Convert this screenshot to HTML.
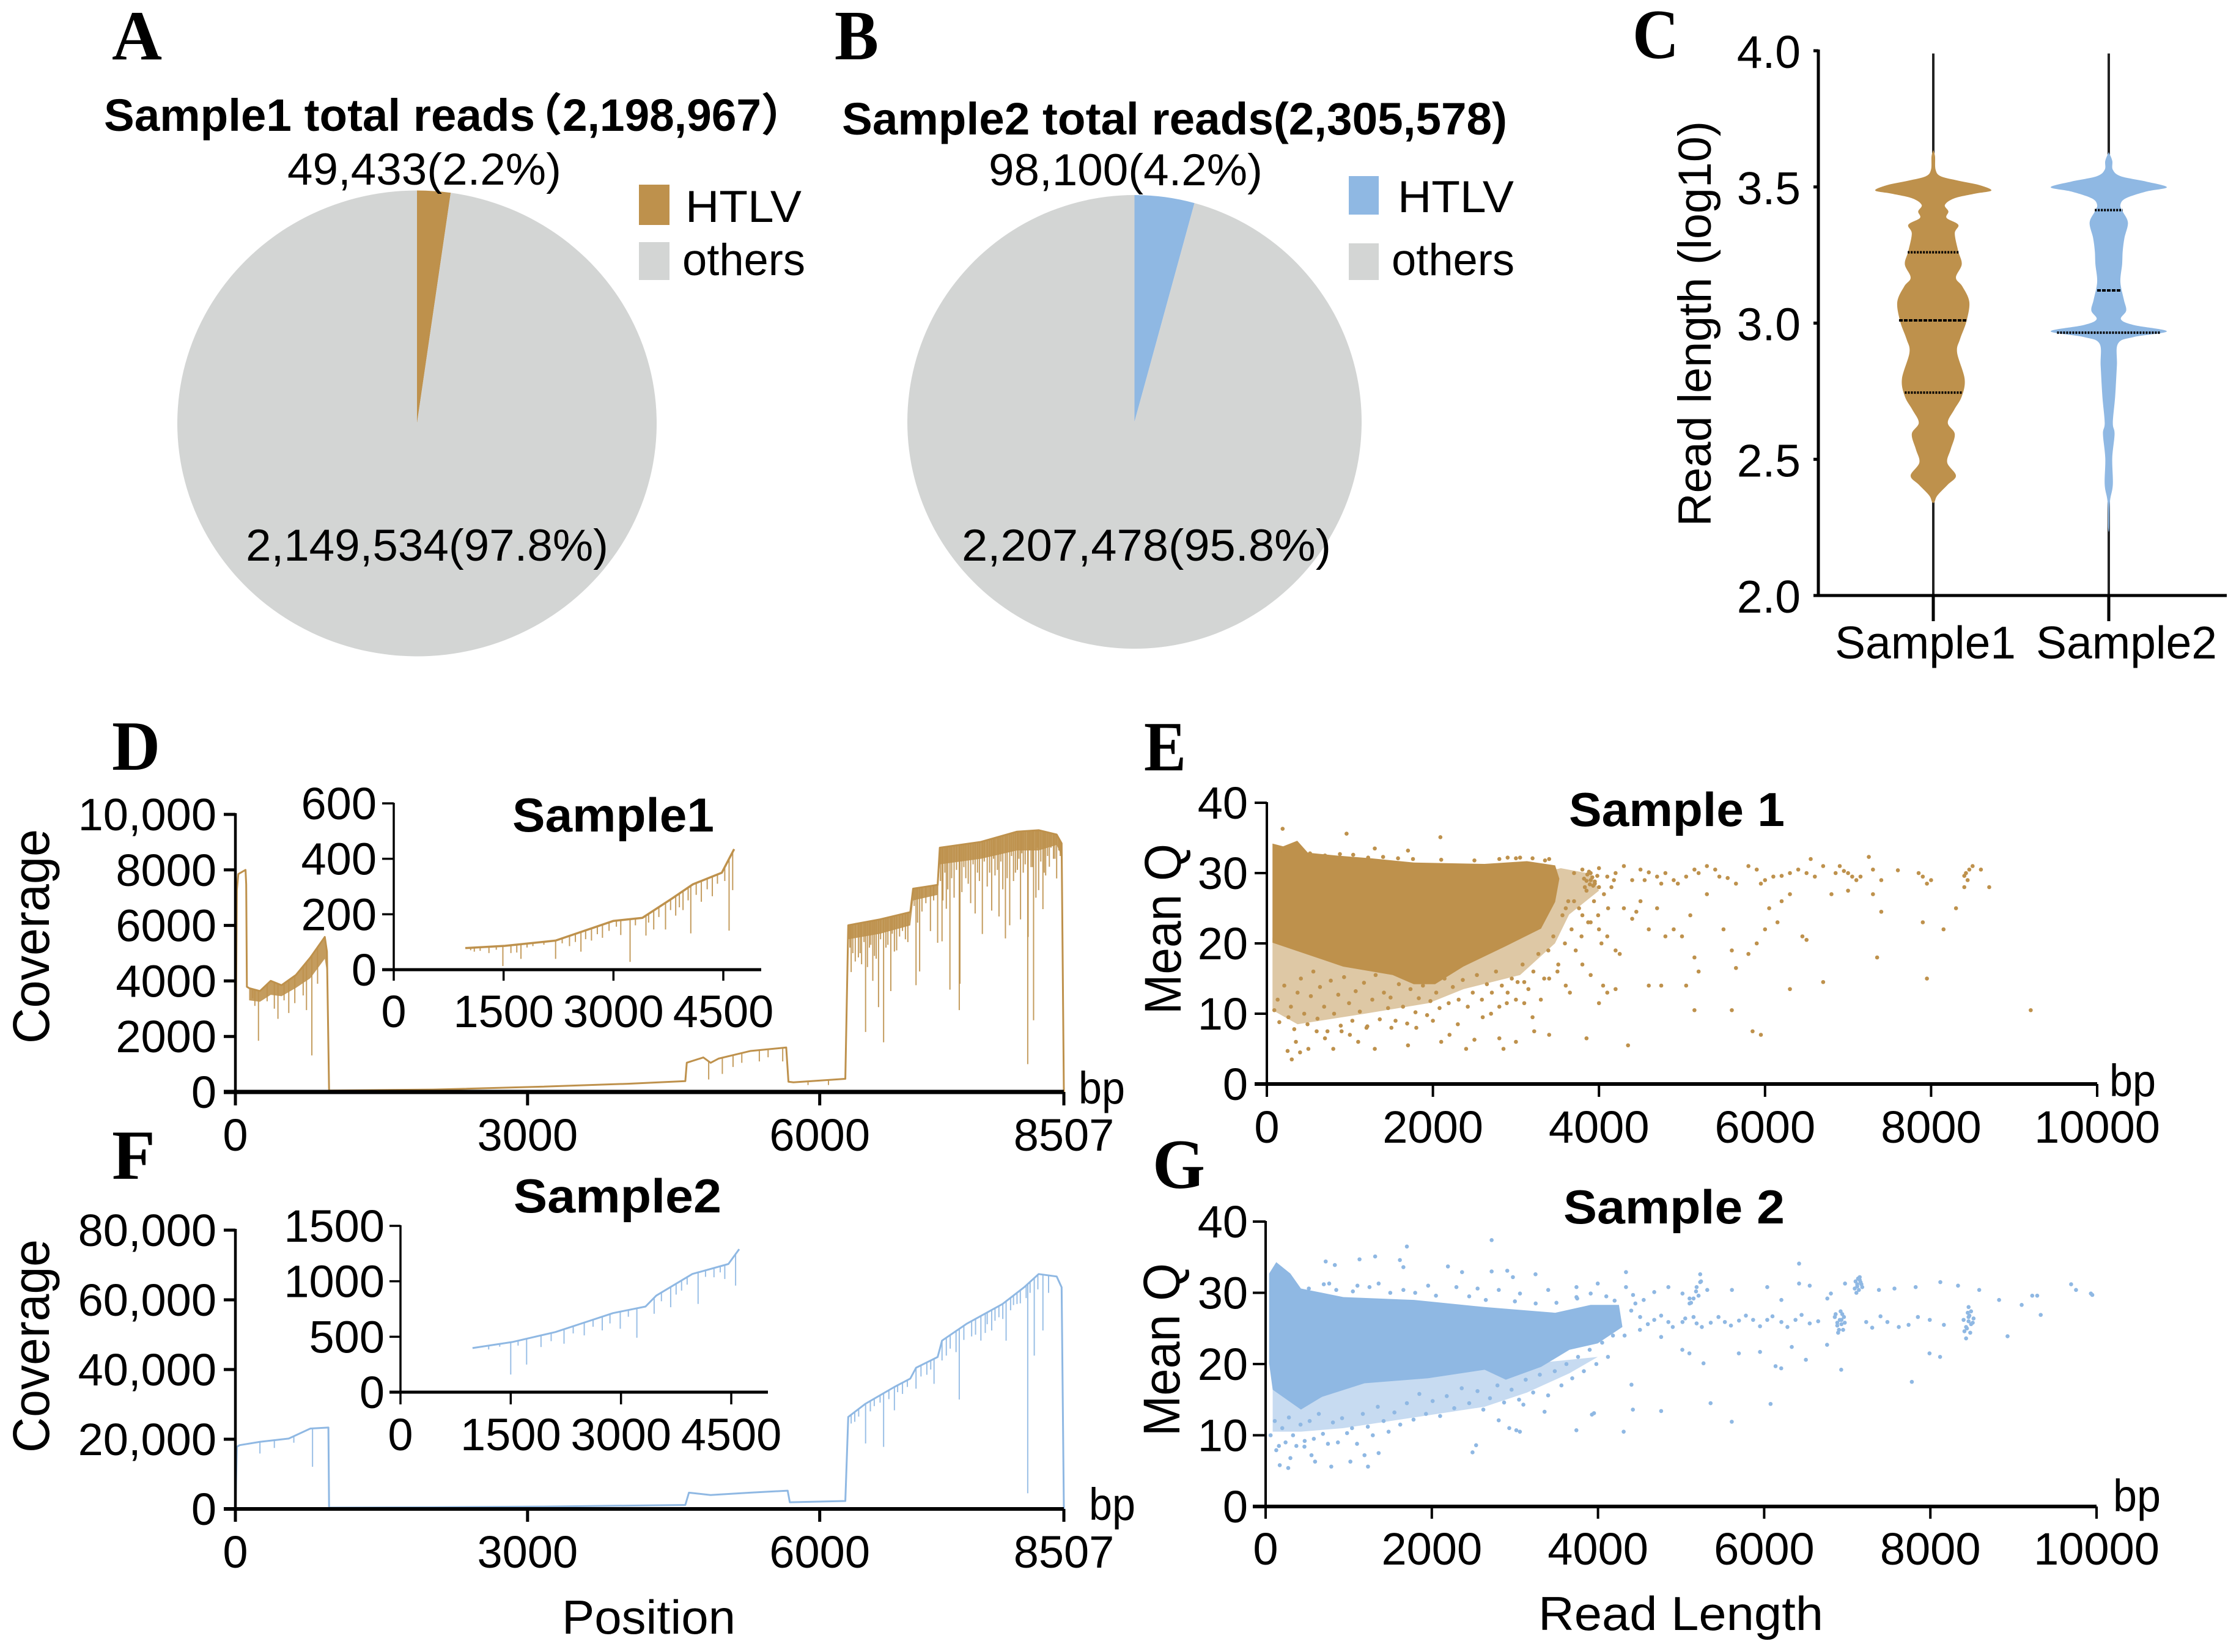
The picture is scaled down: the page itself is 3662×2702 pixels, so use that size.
<!DOCTYPE html>
<html lang="en">
<head>
<meta charset="utf-8">
<title>HTLV sequencing read summary</title>
<style>
html,body{margin:0;padding:0;background:#fff;}
#figure{display:block;width:3662px;height:2702px;}
text{font-family:"Liberation Sans","Noto Sans CJK SC",sans-serif;fill:#000;}
.b{font-weight:700;}
.letter{font-family:"Liberation Serif",serif;font-weight:700;font-size:115px;}
</style>
</head>
<body>
<svg id="figure" xmlns="http://www.w3.org/2000/svg" width="3662" height="2702" viewBox="0 0 3662 2702">
<rect width="3662" height="2702" fill="#fff"/>

<text class="letter" x="183" y="97" textLength="82" lengthAdjust="spacingAndGlyphs">A</text>
<text class="letter" x="1365" y="97" textLength="72" lengthAdjust="spacingAndGlyphs">B</text>
<text class="letter" x="2670" y="95" textLength="76" lengthAdjust="spacingAndGlyphs">C</text>
<text class="letter" x="183" y="1259" textLength="79" lengthAdjust="spacingAndGlyphs">D</text>
<text class="letter" x="1871" y="1260" textLength="69" lengthAdjust="spacingAndGlyphs">E</text>
<text class="letter" x="183" y="1928" textLength="71" lengthAdjust="spacingAndGlyphs">F</text>
<text class="letter" x="1885" y="1943" textLength="86" lengthAdjust="spacingAndGlyphs">G</text>

<g id="panel-a"></g>
<g id="panel-b"></g>
<g id="panel-c"></g>
<g id="panel-d"></g>
<g id="panel-e"></g>
<g id="panel-f"></g>
<g id="panel-g"></g>

<text class="b" x="170" y="214" font-size="74" textLength="705" lengthAdjust="spacingAndGlyphs">Sample1 total reads</text>
<text class="b" x="846" y="214" font-size="74">（</text>
<text class="b" x="920" y="214" font-size="74" textLength="325" lengthAdjust="spacingAndGlyphs">2,198,967</text>
<text class="b" x="1244" y="214" font-size="74">）</text>
<text x="470" y="302" font-size="73" textLength="448" lengthAdjust="spacingAndGlyphs">49,433(2.2%)</text>
<text x="402" y="917" font-size="73" textLength="593" lengthAdjust="spacingAndGlyphs">2,149,534(97.8%)</text>
<rect x="1045" y="302" width="50" height="66" fill="#be914c"/>
<rect x="1045" y="396" width="50" height="62" fill="#d3d5d4"/>
<text x="1121" y="363" font-size="73" textLength="190" lengthAdjust="spacingAndGlyphs">HTLV</text>
<text x="1116" y="450" font-size="73" textLength="201" lengthAdjust="spacingAndGlyphs">others</text>

<text class="b" x="1377" y="220" font-size="74" textLength="1088" lengthAdjust="spacingAndGlyphs">Sample2 total reads(2,305,578)</text>
<text x="1617" y="303" font-size="73" textLength="448" lengthAdjust="spacingAndGlyphs">98,100(4.2%)</text>
<text x="1573" y="917" font-size="73" textLength="604" lengthAdjust="spacingAndGlyphs">2,207,478(95.8%)</text>
<rect x="2206" y="288" width="49" height="63" fill="#8fb8e3"/>
<rect x="2206" y="398" width="49" height="60" fill="#d3d5d4"/>
<text x="2286" y="347" font-size="73" textLength="190" lengthAdjust="spacingAndGlyphs">HTLV</text>
<text x="2276" y="450" font-size="73" textLength="201" lengthAdjust="spacingAndGlyphs">others</text>

<text x="2798" y="861" font-size="76" textLength="663" lengthAdjust="spacingAndGlyphs" transform="rotate(-90 2798 861)">Read length (log10)</text>
<text x="80" y="1707" font-size="84" textLength="351" lengthAdjust="spacingAndGlyphs" transform="rotate(-90 80 1707)">Coverage</text>
<text x="80" y="2376" font-size="84" textLength="349" lengthAdjust="spacingAndGlyphs" transform="rotate(-90 80 2376)">Coverage</text>
<text x="1931" y="1659" font-size="84" textLength="279" lengthAdjust="spacingAndGlyphs" transform="rotate(-90 1931 1659)">Mean Q</text>
<text x="1929" y="2349" font-size="84" textLength="283" lengthAdjust="spacingAndGlyphs" transform="rotate(-90 1929 2349)">Mean Q</text>

<text class="b" x="838" y="1360" font-size="78" textLength="330" lengthAdjust="spacingAndGlyphs">Sample1</text>
<text class="b" x="840" y="1983" font-size="78" textLength="340" lengthAdjust="spacingAndGlyphs">Sample2</text>
<text class="b" x="2566" y="1351" font-size="78" textLength="353" lengthAdjust="spacingAndGlyphs">Sample 1</text>
<text class="b" x="2557" y="2001" font-size="78" textLength="362" lengthAdjust="spacingAndGlyphs">Sample 2</text>

<text x="1764" y="1805" font-size="74" textLength="76" lengthAdjust="spacingAndGlyphs">bp</text>
<text x="1781" y="2486" font-size="74" textLength="76" lengthAdjust="spacingAndGlyphs">bp</text>
<text x="3450" y="1793" font-size="74" textLength="76" lengthAdjust="spacingAndGlyphs">bp</text>
<text x="3456" y="2472" font-size="74" textLength="78" lengthAdjust="spacingAndGlyphs">bp</text>
<text x="919" y="2672" font-size="78" textLength="284" lengthAdjust="spacingAndGlyphs">Position</text>
<text x="2516" y="2666" font-size="78" textLength="466" lengthAdjust="spacingAndGlyphs">Read Length</text>
</svg>

<script>
// ---------- chart data ----------
const pieAValues = [49433, 2149534];
const pieBValues = [98100, 2207478];

const violinTicks = [2, 2.5, 3, 3.5, 4];
const violinTickLabels = ['2.0', '2.5', '3.0', '3.5', '4.0'];
const violinCategories = ['Sample1', 'Sample2'];
const violin1Level = [3.636,3.612,3.563,3.539,3.523,3.507,3.487,3.475,3.458,3.434,3.410,3.386,3.361,3.329,3.264,3.216,3.167,3.135,3.078,3.006,2.941,2.892,2.795,2.731,2.682,2.634,2.593,2.537,2.488,2.440,2.407,2.367,2.343];
const violin1Density = [0,3,4,13,43,79,100,71,36,20,26,23,43,37,43,49,39,50,62,57,46,41,54,49,36,25,37,30,24,39,25,7,2];
const violin2Level = [3.628,3.596,3.563,3.539,3.520,3.499,3.483,3.458,3.434,3.410,3.369,3.313,3.264,3.216,3.151,3.086,3.046,3.014,2.993,2.970,2.949,2.925,2.844,2.731,2.634,2.593,2.504,2.407,2.343,2.246];
const violin2Density = [0,6,7,21,64,100,64,29,20,24,33,27,24,23,20,26,30,21,43,100,43,16,14,11,7,10,6,7,2,1];
const violin1Quartiles = [3.26, 3.01, 2.745];
const violin1QuartileDensity = [44, 59, 49];
const violin2Quartiles = [3.415, 3.12, 2.965];
const violin2QuartileDensity = [24, 20, 89];

const covXTicks = [0, 3000, 6000, 8507];
const covXLabels = ['0', '3000', '6000', '8507'];
const insetXTicks = [0, 1500, 3000, 4500];
const insetXLabels = ['0', '1500', '3000', '4500'];

const dYTicks = [0, 2000, 4000, 6000, 8000, 10000];
const dYLabels = ['0', '2000', '4000', '6000', '8000', '10,000'];
const dPos = [0,15,30,104,111,118,141,252,363,474,622,770,918,940,962,992,2029,3139,4027,4620,4635,4805,4880,4960,5286,5656,5679,5730,6263,6293,6619,6930,6959,7211,7233,7655,8026,8248,8433,8484,8507];
const dCov = [0,7270,7850,8000,7480,3790,3740,3635,4004,3846,4215,4847,5585,5058,53,53,84,190,295,390,1054,1243,1050,1200,1475,1602,369,348,474,6006,6217,6480,7323,7461,8799,9010,9378,9431,9273,8957,0];
const dSpikePos = [237,178,326,437,548,696,785,844,200,400,500,610,730,6323,6397,6471,6545,6604,6656,6730,6767,6989,7026,7137,7211,7256,7337,7433,7440,7596,7670,7766,7841,7907,7951,8062,8136,8140,8196,8248,8292,8358,8433,6340,6430,6510,6580,6700,6820,6880,7300,7380,7500,7550,7620,7720,7800,7880,7990,8030,8090,8170,8220,8320,8400,4860,5000,5110,5200,5380,5470,5620,5880,6090,6310,6365,6415,6455,6490,6525,6562,6625,6680,6745,6790,6850,6905,6970,7005,7050,7090,7170,7240,7265,7285,7315,7355,7405,7460,7480,7525,7575,7640,7690,7745,7785,7825,7860,7925,7970,8010,8045,8075,8110,8155,8185,8235,8270,8305,8340,8375,8415,8455,8470];
const dSpikeLow = [1844,3372,3267,2634,2845,3477,1317,3899,3100,3000,3300,3200,2950,4320,4847,2160,4004,3056,1791,3635,5058,3846,4341,5796,5374,5427,3688,2950,3899,6428,5690,6533,6322,5532,6006,6217,1001,5585,2582,7271,6586,8114,7692,5000,4600,5200,4800,5300,5600,5500,6600,7000,7700,6800,7900,7400,7800,7300,7600,8000,7900,8100,7000,7800,8400,450,650,900,1050,1100,1250,1100,250,250,5200,4700,5000,5400,4500,5300,4900,5500,5200,5700,5100,5800,5400,6700,6100,6500,6800,6900,7600,6900,7900,7300,7700,8000,7200,8100,7500,8200,7600,8300,7900,8400,8000,8300,7700,8500,7900,8400,8600,8200,8700,8100,8800,8300,7900,8500,8800,8400,8700,8500];
const dBandPos = [141,252,363,474,622,770,918,940];
const dBandUpper = [3740,3635,4004,3846,4215,4847,5585,5058];
const dBandLower = [3300,3250,3500,3450,3750,4100,4800,4300];
const dBand2Pos = [6293,6619,6930,6959,7211,7233,7655,8026,8248,8433,8484];
const dBand2Upper = [6006,6217,6480,7323,7461,8799,9010,9378,9431,9273,8957];
const dBand2Lower = [5500,5700,6000,6900,7100,8200,8400,8700,8700,8900,8500];

const dInsetYTicks = [0, 200, 400, 600];
const dInsetYLabels = ['0', '200', '400', '600'];
const dInsetPos = [977,1520,2210,3000,3395,3790,4085,4480,4648];
const dInsetCov = [78,86,105,176,187,255,308,350,435];
const dInsetSpikePos = [1490,1737,2210,2556,3227,3444,3711,4056,4579,4628,1100,1300,1600,1900,2400,2700,2850,3100,3550,3850,3950,4200,4350,1050,1180,1400,1680,1820,2050,2300,2480,2620,2780,2940,3040,3300,3480,3620,3780,3900,4020,4130,4280,4420,4520];
const dInsetSpikeLow = [13,39,39,65,28,123,145,131,141,287,65,60,60,85,85,105,115,125,145,195,215,245,265,70,68,72,62,80,90,95,100,110,128,140,155,160,170,190,215,225,250,270,290,310,320];

const fYTicks = [0, 20000, 40000, 60000, 80000];
const fYLabels = ['0', '20,000', '40,000', '60,000', '80,000'];
const fPos = [0,15,44,252,548,770,955,962,2029,3139,4620,4657,4879,5286,5671,5693,6263,6293,6471,6767,6930,6989,7211,7256,7507,7877,8099,8248,8433,8484,8507];
const fCov = [0,17830,18300,19260,20200,23070,23360,380,480,670,1140,4670,4000,4670,5240,1900,2290,26400,30200,35000,37400,40500,43600,48300,53100,58800,63600,67400,66700,63600,0];
const fSpikePos = [792,252,6471,6656,6323,6767,7433,7174,6989,7655,7914,8136,8203,8292,7256,7766,8026,400,600,6400,6560,6850,7100,7340,7560,7840,7990,8120,6360,6520,6620,6710,6800,6900,7040,7140,7300,7400,7480,7600,7700,7720,7800,7880,7960,8060,8160,8240,8350];
const fSpikeLow = [12100,15900,18800,17800,24500,28300,31400,35900,34500,48300,48300,4500,44000,51200,42600,51200,58800,17500,19000,26500,29500,33000,38500,46000,49500,55000,58500,60500,25000,28000,30500,31500,33500,35000,38000,40000,44000,45000,48500,50000,50500,53000,54000,54500,57000,59000,62000,63000,62000];

const fInsetYTicks = [0, 500, 1000, 1500];
const fInsetYLabels = ['0', '500', '1000', '1500'];
const fInsetPos = [980,1520,2108,2892,3333,3480,3971,4461,4608];
const fInsetCov = [398,452,542,713,772,871,1066,1156,1290];
const fInsetSpikePos = [1500,1716,2225,2745,3216,3451,3676,4049,4559,1912,2500,2990,3824,4265,4412,1200,1350,1600,2050,2350,2620,2850,3100,3550,3750,3900,4150,4350];
const fInsetSpikeLow = [159,249,437,557,491,707,766,796,961,407,512,572,916,1036,1021,385,410,420,460,530,590,620,680,820,880,970,1040,1080];

const qTicks = [0, 10, 20, 30, 40];
const qLabels = ['0', '10', '20', '30', '40'];
const lenTicks = [0, 2000, 4000, 6000, 8000, 10000];
const lenLabels = ['0', '2000', '4000', '6000', '8000', '10000'];

const eDenseLen = [68,196,366,494,834,1260,1770,2621,3132,3472,3523,3472,3302,2877,2366,2026,1770,1515,919,68];
const eDenseQ = [34.2,33.8,34.6,32.9,32.5,32.1,31.5,31.3,31.7,31.1,29.2,25.9,22.1,19.6,16.7,14.2,14.2,15.5,16.7,20.1];
const eMidLen = [68,68,370,1180,1950,2370,3050,3470,3640,4000,3900,3540];
const eMidQ = [20.8,10.5,8.5,10,11.5,13.5,15.5,20,24.1,27.5,29.9,30.7];
const eLen = [190,960,2090,1700,1300,3400,2900,3050,3700,3800,4000,4100,3900,3950,4000,3850,4150,4200,4300,4400,4500,4600,4700,4800,4550,4750,4900,4950,5050,5150,5200,5300,5400,5450,5550,5650,5800,5900,5950,6000,6100,6200,6300,6400,6500,6550,6600,6700,6850,6900,6950,7000,7050,7100,7150,7250,7300,7400,7600,7850,7900,7950,8000,8400,8420,8440,8460,8500,8600,8400,8700,3600,3700,3800,3900,4000,4100,4200,4250,4300,4400,4450,4500,4600,4700,4800,4900,5000,5100,5150,5200,5300,5500,5600,5650,5800,5900,6000,6050,6150,6200,6300,6450,6500,6700,6800,7000,7300,7350,7400,7900,7950,8300,8150,3500,3600,3650,3800,3900,4050,4100,4200,4000,4600,4750,5050,5150,5600,6300,5850,5950,9200,4350,3850,3400,3200,3220,3000,2850,2800,2500,2400,2200,2100,1700,1300,1100,1000,800,500,400,300,250,350,600,700,900,1200,1500,1800,2000,2300,2600,2700,2800,3000,3100,2900,3300,3100,3400,3820,3860,3890,3920,3950,3980,3850,3900,3930,3880];
const eQ = [36.3,35.6,35.1,33.2,33.5,32,32.2,32.2,30,30.5,30.7,29.5,29,28.5,28,27.5,28,30,31,29,30.5,30.1,29.5,30,29,28.5,29,28.5,29.5,30.5,30,31,30.5,29.5,29.3,28.5,31,30.5,28.5,29,29.5,29.6,30,30.5,30,32,29.5,31,30,31,30.3,30,29.5,29,29.5,32.3,30.5,29,30.4,30,29.5,28.5,29,29.6,30,29,30.5,31,30.5,28,28,25,26,24,23,22,21,19,18.5,25,23.5,24.5,26,22,25,21,22,21,24,18,16,27,22,19,16.5,18.5,20,22,25,23,26,27,21,20.5,14.5,27,27.5,27,18,24.5,23,15,25,22,16,14,13,17,15.5,14,13,13.5,11.5,14,14,14,10.5,10.5,13.5,7.5,7,10.5,5.5,6.5,7,9.5,7.5,6,5,6.5,6.3,5,7,6,5.5,5,6,7,5,5,4.5,3.5,4.7,6,7.5,6.5,7.5,8,8,8,9,8.5,9.5,10,11,12,11.5,13,12,14.5,15,29.2,29.8,28.4,29.4,28.8,29.6,28.9,30,28.2,30.2];
const eFillLen = [90,130,150,210,260,290,330,370,410,450,490,530,560,610,640,690,730,770,810,860,890,930,990,1030,1070,1120,1170,1210,1270,1310,1360,1410,1460,1490,1550,1590,1640,1690,1730,1790,1830,1880,1930,1970,2040,2080,2140,2190,2240,2310,2360,2420,2480,2530,2590,2650,2710,2760,2830,2890,2950,3020,3080,3150,3210,3270,3340,3390,3450,3510,3560,3590,3630,3670,3720,3760,3790,3830,3870,3940,3990,4030,4060,4110,4180,150,280,380,520,700,880,1040,1220,1400,1580,1760,2100,2500,2800,3000,3200,3350];
const eFillQ = [10.5,12,8.8,14,9.5,11,7.8,13,15,10,8.5,12.5,16,9.3,13.8,11,7.5,14.7,10,12.7,8.3,15.2,11.5,9,13.2,10.3,14.4,8.2,12,15.5,9.2,13,10.8,12.3,9,14.2,11,8.6,13.5,10.2,12.2,14,9.8,11.8,13,10.8,15,11.5,13.8,12,14.8,11,13,15.5,12,14.2,13,16,14,11.5,15,14.5,17,13.5,16,18.5,15,19,21,17,24,20,26,22,19,25,21,28,23,26,24,20,27,25,29,33,33.5,33,32.8,32.5,32.7,32.6,32.2,32.3,32.1,32,31.9,31.8,32,32.1,32.1,31.8];

const gDenseLen = [42,128,298,425,935,1786,2636,3486,3912,4252,4294,3997,3656,3316,2891,2636,1956,1190,680,425,85,42];
const gDenseQ = [32.7,34.3,32.7,30.6,29.4,29,28,27.2,28.3,28.3,25.2,22.9,22,19.6,17.8,19.2,18,17.3,15.4,13.6,16.4,20.1];
const gMidLen = [85,85,425,935,1786,2636,3146,3656,3997];
const gMidQ = [16.4,10.5,10.5,11,12.5,14,16,18.7,21];
const gLen = [2720,1700,1318,1130,723,833,1616,1658,2194,2364,2720,2908,2976,3248,6420,4337,5230,765,1105,1360,1658,1956,2296,2551,2806,3061,3401,3741,3997,3741,3912,4337,4422,4677,4847,5017,5102,5187,5230,5315,5102,5612,6037,6207,6420,6548,6803,6760,6973,7381,7568,7823,8120,8333,8588,8827,9099,9226,9286,9328,9694,9753,9932,9949,8929,4507,4677,4847,5017,5187,5357,5527,5697,5867,6037,6207,6377,6548,7228,7483,7738,7993,8163,4600,4760,4900,5050,5150,5250,5450,5600,5780,5950,6100,6280,6450,6650,7300,7400,7620,7850,4505,4760,5015,5100,5270,5695,5950,6137,6205,6332,6502,6757,6927,7777,7990,8117,5355,6077,5610,4403,4420,4760,3927,3952,3740,4309,3017,3060,2932,2805,3357,3102,2490,2533,1360,1190,1020,1232,790,595,552,272,170,128,298,467,7090,7120,7150,7180,7110,7140,7170,7100,7130,7160,7120,7150,6850,6880,6910,6940,6970,6860,6900,6930,6960,6880,6920,6950,6890,6930,8400,8430,8460,8490,8520,8410,8450,8480,8510,8440,8470,8460,8430,8490,8460,5150,5180,5210,5240,5120];
const gQ = [37.4,36.5,35.1,34.7,34.4,33.9,34.6,33.6,33.7,32.9,33,33.1,32.2,32.6,34.1,32.9,32.6,31.3,31,31.3,30.4,31,30.8,30.6,30.4,29.9,30.4,30.8,31.3,29.4,29.9,30.8,29.7,30.1,30.8,29.9,29.2,30.8,31.5,30.4,28.5,30.4,30.8,29,31.3,31,29.9,29.2,31.3,30.4,30.6,30.8,31.5,31,30.4,29,28.3,29.6,29.6,26.9,31.2,30.4,29.9,29.7,23.9,26.6,26.2,25.9,25.9,25.7,25.8,25.9,26.1,26.2,26.2,25.9,26.2,25.7,25.9,25.9,25.5,26.2,25.5,25.6,26.8,25.2,26.4,26.6,25.2,26.6,25.4,26.8,25.3,26.7,25.2,26.9,26,25.1,26.7,25.2,26.6,24.8,23.8,22,21.5,20.1,21.5,21.7,19.7,19.4,22.4,20.6,22.7,19.2,17.5,21.5,21,14.5,14.4,11.9,17.1,13.6,13.4,12.9,13.1,10.7,10.5,10.7,10.5,11,12.1,13.3,14.3,7.6,8.6,7.5,7.2,6.3,5.6,5.6,6.3,7.2,5.4,5.8,7.9,6.8,8.4,30.6,31.2,31.8,30.8,30,30.4,31.2,31.6,32,31.5,30.9,32.2,26.6,25.4,26.2,27,25.8,27,24.8,25.6,26.6,25.8,27.4,24.8,24.4,26.2,26.2,25.2,26.6,25.6,26.4,24.6,27.2,24.4,25.8,25,26.8,28,23.6,27.4,26,29.2,30.2,29.6,31.6,28.6];
const gFillLen = [60,110,160,200,240,280,330,370,420,470,530,580,640,690,750,810,870,920,980,1040,1100,1170,1230,1290,1350,1420,1480,1550,1620,1700,1780,1850,1930,2010,2100,2180,2270,2360,2450,2550,2620,2700,2790,2870,2960,3050,3130,3220,3300,3400,3480,3560,3620,3690,3760,3830,3900,3980,4050,4120,4180,4240,4320,4400,4450,4550,150,230,350,520,700,850,1050,1250,1500,1800,2050,2450,2650,3000,3250,3500,3750,4100,4200];
const gFillQ = [10,12,8.5,11,9,12.5,10,8.5,11.5,9.2,12,9.5,13,10.2,8.8,11.8,9,12.4,10.3,11,8.8,13,11.2,10,14,12,10.5,13.2,11.5,14.5,12.2,15.8,13,14.8,12.7,15.5,13.8,16.6,14.5,16.2,13.6,15.2,17,14.6,16.4,15,17.8,16,18.5,15.6,19,17,20,18,21,19,22,20,23,21,24,27,24,27.5,28.5,29,33.5,32,31,30.6,31.2,30.4,30.2,30.8,30,30,29.6,29.5,29,28.8,28.5,28.6,29.2,29.5,28.9];

// ---------- helpers ----------
const NS = 'http://www.w3.org/2000/svg';
const GOLD = '#be914c';
const BLUE = '#8fb8e3';
const GRAY = '#d3d5d4';

function mk(parent, tag, attrs, name) {
  const el = document.createElementNS(NS, tag);
  for (const k in attrs) el.setAttribute(k, attrs[k]);
  
  
  parent.appendChild(el);
  return el;
}
function linear(d0, d1, r0, r1) {
  return v => r0 + (v - d0) * (r1 - r0) / (d1 - d0);
}
function interp(xs, ys, x) {
  for (let i = 1; i < xs.length; i++) {
    if (x <= xs[i]) {
      const t = (x - xs[i - 1]) / ((xs[i] - xs[i - 1]) || 1);
      return ys[i - 1] + t * (ys[i] - ys[i - 1]);
    }
  }
  return ys[ys.length - 1];
}
function smoothPath(pts) {
  let d = `M${pts[0][0]} ${pts[0][1]}`;
  for (let i = 0; i < pts.length - 1; i++) {
    const p0 = pts[Math.max(i - 1, 0)], p1 = pts[i], p2 = pts[i + 1], p3 = pts[Math.min(i + 2, pts.length - 1)];
    d += `C${p1[0] + (p2[0] - p0[0]) / 6} ${p1[1] + (p2[1] - p0[1]) / 6} ${p2[0] - (p3[0] - p1[0]) / 6} ${p2[1] - (p3[1] - p1[1]) / 6} ${p2[0]} ${p2[1]}`;
  }
  return d;
}
function drawAxes(g, prefix, sx, sy, xTicks, xLabels, yTicks, yLabels, o) {
  yTicks.forEach((v, i) => {
    mk(g, 'line', {x1: o.yTickStart, x2: o.axisX, y1: sy(v), y2: sy(v), stroke: '#000', 'stroke-width': o.tickW}, prefix + '-y-tick');
    const t = mk(g, 'text', {x: o.yLabelX, y: sy(v) + 26, 'font-size': o.font, 'text-anchor': 'end'}, prefix + '-y-tick-label');
    t.textContent = yLabels[i];
  });
  xTicks.forEach((v, i) => {
    mk(g, 'line', {x1: sx(v), x2: sx(v), y1: o.axisY, y2: o.xTickEnd, stroke: '#000', 'stroke-width': o.tickW}, prefix + '-x-tick');
    const t = mk(g, 'text', {x: sx(v), y: o.xLabelY, 'font-size': o.font, 'text-anchor': 'middle'}, prefix + '-x-tick-label');
    t.textContent = xLabels[i];
  });
  mk(g, 'line', {x1: o.axisX, x2: o.axisX, y1: o.yAxisTop, y2: o.axisY, stroke: '#000', 'stroke-width': o.yAxisW}, prefix + '-y-axis');
  mk(g, 'line', {x1: o.xAxisStart, x2: o.xAxisEnd, y1: o.axisY, y2: o.axisY, stroke: '#000', 'stroke-width': o.xAxisW}, prefix + '-x-axis');
}
function drawPie(g, prefix, values, cx, cy, rx, ry, colors) {
  const total = values.reduce((a, b) => a + b, 0);
  let a0 = 0;
  values.forEach((v, i) => {
    const a1 = a0 + v / total * 2 * Math.PI;
    const big = (a1 - a0) > Math.PI ? 1 : 0;
    const x0 = cx + rx * Math.sin(a0), y0 = cy - ry * Math.cos(a0);
    const x1 = cx + rx * Math.sin(a1), y1 = cy - ry * Math.cos(a1);
    mk(g, 'path', {d: `M${cx} ${cy}L${x0} ${y0}A${rx} ${ry} 0 ${big} 1 ${x1} ${y1}Z`, fill: colors[i]}, prefix + '-slice');
    a0 = a1;
  });
}
function drawViolin(g, prefix, cx, sy, levels, density, quartiles, qDensity, color, maxHalf) {
  mk(g, 'line', {x1: cx, x2: cx, y1: sy(3.99), y2: sy(2), stroke: '#222', 'stroke-width': 4}, prefix + '-range-line');
  const right = levels.map((v, i) => [cx + density[i] / 100 * maxHalf, sy(v)]);
  const left = levels.map((v, i) => [cx - density[i] / 100 * maxHalf, sy(v)]).reverse();
  mk(g, 'path', {d: smoothPath(right.concat(left)) + 'Z', fill: color}, prefix + '-body');
  quartiles.forEach((v, i) => {
    const h = qDensity[i] / 100 * maxHalf;
    mk(g, 'line', {x1: cx - h, x2: cx + h, y1: sy(v), y2: sy(v), stroke: '#000', 'stroke-width': 4, 'stroke-dasharray': i === 1 ? '6 2' : '3 2'}, prefix + '-quartile');
  });
}
function drawBand(g, name, sx, sy, pos, upper, lower, color) {
  const pts = pos.map((p, i) => `${sx(p)},${sy(upper[i])}`).concat(pos.map((p, i) => `${sx(p)},${sy(lower[i])}`).reverse());
  mk(g, 'polygon', {points: pts.join(' '), fill: color, 'fill-opacity': 0.9}, name);
}
function drawCoverage(g, prefix, sx, sy, pos, cov, spikePos, spikeLow, color, w, spikeW) {
  spikePos.forEach((p, i) => {
    mk(g, 'line', {x1: sx(p), x2: sx(p), y1: sy(interp(pos, cov, p)), y2: sy(spikeLow[i]), stroke: color, 'stroke-width': spikeW, 'stroke-opacity': 0.9}, prefix + '-dip');
  });
  mk(g, 'polyline', {points: pos.map((p, i) => `${sx(p)},${sy(cov[i])}`).join(' '), fill: 'none', stroke: color, 'stroke-width': w, 'stroke-linejoin': 'round'}, prefix + '-line');
}
function drawPoints(g, prefix, sx, sy, len, q, color) {
  len.forEach((l, i) => {
    mk(g, 'circle', {cx: sx(l), cy: sy(q[i]), r: 3.3, fill: color}, prefix + '-point');
  });
}
function drawCloud(g, prefix, sx, sy, dLen, dQ, mLen, mQ, color) {
  mk(g, 'polygon', {points: mLen.map((l, i) => `${sx(l)},${sy(mQ[i])}`).join(' '), fill: color, 'fill-opacity': 0.5}, prefix + '-sparse-cloud');
  mk(g, 'polygon', {points: dLen.map((l, i) => `${sx(l)},${sy(dQ[i])}`).join(' '), fill: color}, prefix + '-dense-cloud');
}

// ---------- panels A, B ----------
drawPie(document.getElementById('panel-a'), 'pie-a', pieAValues, 682, 692.5, 392, 381, [GOLD, GRAY]);
drawPie(document.getElementById('panel-b'), 'pie-b', pieBValues, 1855.5, 690, 371.5, 371, [BLUE, GRAY]);

// ---------- panel C ----------
(function () {
  const g = document.getElementById('panel-c');
  const sy = linear(2, 4, 974, 83);
  const catX = [3162, 3449];
  drawViolin(g, 'violin-sample1', catX[0], sy, violin1Level, violin1Density, violin1Quartiles, violin1QuartileDensity, GOLD, 95);
  drawViolin(g, 'violin-sample2', catX[1], sy, violin2Level, violin2Density, violin2Quartiles, violin2QuartileDensity, BLUE, 95);
  violinTicks.forEach((v, i) => {
    mk(g, 'line', {x1: 2966, x2: 2974, y1: sy(v), y2: sy(v), stroke: '#000', 'stroke-width': 5}, 'violin-y-tick');
    const t = mk(g, 'text', {x: 2945, y: sy(v) + 28, 'font-size': 75, 'text-anchor': 'end'}, 'violin-y-tick-label');
    t.textContent = violinTickLabels[i];
  });
  mk(g, 'line', {x1: 2974, x2: 2974, y1: 81, y2: 976, stroke: '#000', 'stroke-width': 5}, 'violin-y-axis');
  mk(g, 'line', {x1: 2966, x2: 3642, y1: 974, y2: 974, stroke: '#000', 'stroke-width': 5}, 'violin-x-axis');
  catX.forEach((x, i) => {
    mk(g, 'line', {x1: x, x2: x, y1: 974, y2: 1016, stroke: '#000', 'stroke-width': 5}, 'violin-x-tick');
    const t = mk(g, 'text', {x: i === 0 ? 3149 : 3478, y: 1077, 'font-size': 75, 'text-anchor': 'middle'}, 'violin-x-tick-label');
    t.textContent = violinCategories[i];
  });
})();

// ---------- panel D ----------
(function () {
  const g = document.getElementById('panel-d');
  const sx = linear(0, 8507, 385, 1740), sy = linear(0, 10000, 1786, 1332);
  drawBand(g, 'coverage-d-band-left', sx, sy, dBandPos, dBandUpper, dBandLower, GOLD);
  drawBand(g, 'coverage-d-band-right', sx, sy, dBand2Pos, dBand2Upper, dBand2Lower, GOLD);
  drawCoverage(g, 'coverage-d', sx, sy, dPos, dCov, dSpikePos, dSpikeLow, GOLD, 3, 2);
  drawAxes(g, 'coverage-d', sx, sy, covXTicks, covXLabels, dYTicks, dYLabels, {axisX: 385, axisY: 1786, yTickStart: 366, xTickEnd: 1808, yLabelX: 354, xLabelY: 1882, font: 74, tickW: 5, yAxisW: 4.5, xAxisW: 7, yAxisTop: 1330, xAxisStart: 366, xAxisEnd: 1740});
  const ix = linear(0, 4500, 644, 1183), iy = linear(0, 600, 1586, 1314);
  drawCoverage(g, 'coverage-d-inset', ix, iy, dInsetPos, dInsetCov, dInsetSpikePos, dInsetSpikeLow, GOLD, 3.5, 2);
  drawAxes(g, 'coverage-d-inset', ix, iy, insetXTicks, insetXLabels, dInsetYTicks, dInsetYLabels, {axisX: 644, axisY: 1586, yTickStart: 625, xTickEnd: 1604, yLabelX: 616, xLabelY: 1680, font: 74, tickW: 3.5, yAxisW: 3.5, xAxisW: 5, yAxisTop: 1313, xAxisStart: 625, xAxisEnd: 1245});
})();

// ---------- panel F ----------
(function () {
  const g = document.getElementById('panel-f');
  const sx = linear(0, 8507, 385, 1740), sy = linear(0, 80000, 2468, 2012);
  drawCoverage(g, 'coverage-f', sx, sy, fPos, fCov, fSpikePos, fSpikeLow, BLUE, 3, 2);
  drawAxes(g, 'coverage-f', sx, sy, covXTicks, covXLabels, fYTicks, fYLabels, {axisX: 385, axisY: 2468, yTickStart: 366, xTickEnd: 2489, yLabelX: 354, xLabelY: 2564, font: 74, tickW: 5, yAxisW: 4.5, xAxisW: 6, yAxisTop: 2010, xAxisStart: 366, xAxisEnd: 1740});
  const ix = linear(0, 4500, 655, 1196), iy = linear(0, 1500, 2277, 2005);
  drawCoverage(g, 'coverage-f-inset', ix, iy, fInsetPos, fInsetCov, fInsetSpikePos, fInsetSpikeLow, BLUE, 3, 2);
  drawAxes(g, 'coverage-f-inset', ix, iy, insetXTicks, insetXLabels, fInsetYTicks, fInsetYLabels, {axisX: 655, axisY: 2277, yTickStart: 637, xTickEnd: 2297, yLabelX: 629, xLabelY: 2372, font: 74, tickW: 3.5, yAxisW: 3.5, xAxisW: 5, yAxisTop: 2004, xAxisStart: 637, xAxisEnd: 1256});
})();

// ---------- panel E ----------
(function () {
  const g = document.getElementById('panel-e');
  const sx = linear(0, 10000, 2072, 3430), sy = linear(0, 40, 1773, 1313);
  drawCloud(g, 'scatter-e', sx, sy, eDenseLen, eDenseQ, eMidLen, eMidQ, GOLD);
  drawPoints(g, 'scatter-e', sx, sy, eLen, eQ, GOLD);
  drawPoints(g, 'scatter-e-fill', sx, sy, eFillLen, eFillQ, GOLD);
  drawAxes(g, 'scatter-e', sx, sy, lenTicks, lenLabels, qTicks, qLabels, {axisX: 2072, axisY: 1773, yTickStart: 2052, xTickEnd: 1794, yLabelX: 2041, xLabelY: 1869, font: 74, tickW: 4, yAxisW: 4, xAxisW: 6, yAxisTop: 1312, xAxisStart: 2052, xAxisEnd: 3430});
})();

// ---------- panel G ----------
(function () {
  const g = document.getElementById('panel-g');
  const sx = linear(0, 10000, 2070, 3429), sy = linear(0, 40, 2464, 1998);
  drawCloud(g, 'scatter-g', sx, sy, gDenseLen, gDenseQ, gMidLen, gMidQ, BLUE);
  drawPoints(g, 'scatter-g', sx, sy, gLen, gQ, BLUE);
  drawPoints(g, 'scatter-g-fill', sx, sy, gFillLen, gFillQ, BLUE);
  drawAxes(g, 'scatter-g', sx, sy, lenTicks, lenLabels, qTicks, qLabels, {axisX: 2070, axisY: 2464, yTickStart: 2049, xTickEnd: 2484, yLabelX: 2041, xLabelY: 2559, font: 74, tickW: 4, yAxisW: 4, xAxisW: 6, yAxisTop: 1997, xAxisStart: 2049, xAxisEnd: 3429});
})();
</script>
</body>
</html>
